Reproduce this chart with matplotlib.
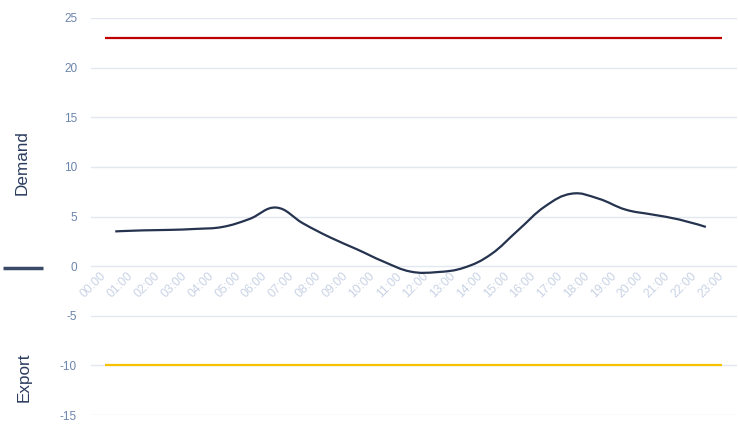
import matplotlib
matplotlib.use("Agg")
import matplotlib.pyplot as plt
from matplotlib.path import Path
from matplotlib.patches import PathPatch

plt.rcParams['font.family'] = ['Liberation Sans', 'DejaVu Sans']
plt.rcParams['axes.unicode_minus'] = False

hours = ["%02d:00" % h for h in range(24)]
demand_offset = 0.4
demand = [3.5, 3.6, 3.65, 3.75, 3.95, 4.75, 5.9, 4.3, 2.9, 1.7, 0.45, -0.55,
          -0.6, -0.15, 1.2, 3.6, 6.0, 7.3, 6.8, 5.7, 5.2, 4.7, 3.95]
upper_limit = [23] * 24
lower_limit = [-10] * 24
yticks = [-15, -10, -5, 0, 5, 10, 15, 20, 25]

W, H = 738, 429
fig = plt.figure(figsize=(W / 100, H / 100), dpi=100)
ax = fig.add_axes([91 / W, (H - 415) / H, (737 - 91) / W, (415 - 18) / H])

ax.set_ylim(-15, 25)
ax.set_xlim(-0.503, 23.56)
ax.set_yticks(yticks)
ax.set_xticks(range(len(hours)))
ax.set_xticklabels(hours)

for s in ax.spines.values():
    s.set_visible(False)
ax.spines['bottom'].set_position(('data', 0))

ax.yaxis.grid(True, color='#e3e7ef', linewidth=1)
ax.xaxis.grid(False)
ax.set_axisbelow(True)
ax.tick_params(axis='y', length=0, pad=10, labelsize=8.5, labelcolor='#6b84aa')
ax.tick_params(axis='x', length=0, pad=6, labelsize=8.7, labelcolor='#c9d3e5')
for lab in ax.get_xticklabels():
    lab.set_rotation(45)
    lab.set_ha('right')
    lab.set_va('center')
    lab.set_rotation_mode('anchor')

xs = list(range(len(upper_limit)))
ax.plot(xs, upper_limit, color='#c00000', linewidth=1.6, solid_capstyle='butt', zorder=3)
ax.plot(xs, lower_limit, color='#f7c100', linewidth=1.6, solid_capstyle='butt', zorder=3)

# spline through the demand points (Highcharts-like smoothing)
px = [i + demand_offset for i in range(len(demand))]
py = demand
sm = 1.5
verts = [(px[0], py[0])]
codes = [Path.MOVETO]
ctrl = []
n = len(px)
for i in range(n):
    if i == 0 or i == n - 1:
        ctrl.append(((px[i], py[i]), (px[i], py[i])))
        continue
    lx = (sm * px[i] + px[i - 1]) / (sm + 1)
    ly = (sm * py[i] + py[i - 1]) / (sm + 1)
    rx = (sm * px[i] + px[i + 1]) / (sm + 1)
    ry = (sm * py[i] + py[i + 1]) / (sm + 1)
    corr = ((ry - ly) * (rx - px[i])) / (rx - lx) + py[i] - ry
    ly += corr
    ry += corr
    ctrl.append(((lx, ly), (rx, ry)))
for i in range(1, n):
    verts += [ctrl[i - 1][1], ctrl[i][0], (px[i], py[i])]
    codes += [Path.CURVE4] * 3
ax.add_patch(PathPatch(Path(verts, codes), fill=False, edgecolor='#25334f',
                       linewidth=1.6, zorder=4, capstyle='butt'))

fig.text(22 / W, 1 - 163 / H, "Demand", rotation=90, ha='center', va='center',
         fontsize=12.3, color='#2b3c5e')
fig.text(24 / W, 1 - 377 / H, "Export", rotation=90, ha='center', va='center',
         fontsize=12.3, color='#2b3c5e')
fig.add_artist(plt.Line2D([3 / W, 43 / W], [1 - 268 / H, 1 - 268 / H],
                          color='#3b4a66', linewidth=2.5, solid_capstyle='butt'))

fig.savefig("out.png", dpi=100)
